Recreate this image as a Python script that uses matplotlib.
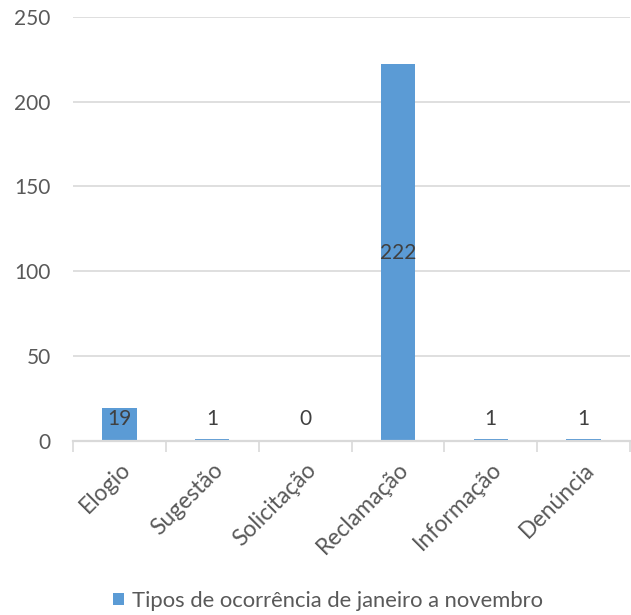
import matplotlib
matplotlib.use('Agg')
import matplotlib.pyplot as plt
from matplotlib.patches import Patch

# dados do gráfico
categorias = ['Elogio', 'Sugestão', 'Solicitação', 'Reclamação', 'Informação', 'Denúncia']
valores = [19, 1, 0, 222, 1, 1]
serie_nome = 'Tipos de ocorrência de janeiro a novembro'
y_ticks = [0, 50, 100, 150, 200, 250]

cor_barra = '#5B9BD5'
cor_texto = '#595959'
cor_grade = '#D9D9D9'

plt.rcParams['font.family'] = ['Lato', 'DejaVu Sans']

fig = plt.figure(figsize=(6.31, 6.15), dpi=100)
ax = fig.add_axes([73 / 631, 1 - 440.7 / 615, (630 - 73) / 631, (440.7 - 17) / 615])

x = list(range(len(categorias)))
ax.bar(x, valores, width=0.37, color=cor_barra, zorder=3)

# rótulos de dados (centro da barra, com mínimo para barras pequenas)
for i, v in enumerate(valores):
    ax.text(i, max(v / 2, 13), str(v), ha='center', va='center',
            fontsize=15, color='#404040', zorder=4)

ax.set_xlim(-0.5, len(categorias) - 0.5)
ax.set_ylim(0, 250)
ax.set_yticks(y_ticks)
ax.yaxis.grid(True, color=cor_grade, linewidth=1.2, zorder=0)
ax.tick_params(axis='y', length=0, labelsize=15, labelcolor=cor_texto, pad=16)

# marcas entre categorias no eixo x
ax.set_xticks(x)
ax.set_xticklabels(categorias, rotation=45, ha='right', rotation_mode='anchor',
                   fontsize=16.5, color=cor_texto)
ax.set_xticks([i - 0.5 for i in range(len(categorias) + 1)], minor=True)
ax.tick_params(axis='x', which='major', length=0, pad=13)
ax.tick_params(axis='x', which='minor', length=8, width=1.2, color=cor_grade)

for s in ['top', 'right', 'left']:
    ax.spines[s].set_visible(False)
ax.spines['bottom'].set_color(cor_grade)
ax.spines['bottom'].set_linewidth(1.6)
ax.spines['bottom'].set_zorder(5)

handles = [Patch(facecolor=cor_barra, label=serie_nome)]
fig.legend(handles=handles, loc='center', bbox_to_anchor=(328 / 631, 1 - 601 / 615),
           frameon=False, fontsize=15.8, labelcolor=cor_texto,
           handlelength=0.5, handleheight=0.5, handletextpad=0.4)

plt.savefig('out.png', dpi=100)
